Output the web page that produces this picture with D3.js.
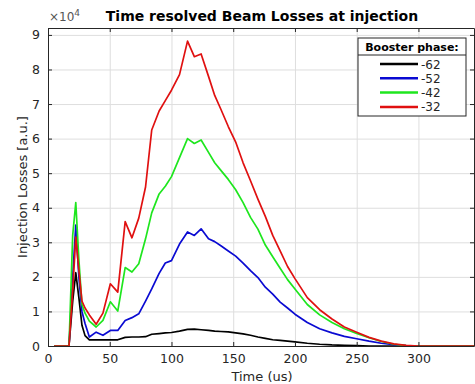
<!DOCTYPE html>
<html>
<head>
<meta charset="utf-8">
<script src="https://cdn.jsdelivr.net/npm/d3@7"></script>
<style>
  body { margin: 0; background: #fff; }
  text { font-family: "DejaVu Sans", sans-serif; }
</style>
</head>
<body>
<script>
// time grid (us) shared by all curves
var timeUs = [5, 17, 20, 22.5, 25, 27.5, 30, 33.5, 39, 44.5, 50.5, 56.5, 62.5, 68, 73.5, 79, 84, 90, 95, 100,
  106.5, 113, 118.5, 124, 130, 135, 140, 146, 152, 158, 164, 170, 176, 182, 188, 194, 200, 210, 220, 230,
  240, 250, 260, 270, 280, 290, 300, 320, 345];

// losses in units of 1e4
var lossM62 = [0, 0, 1.3, 2.12, 1.4, 0.6, 0.3, 0.18, 0.18, 0.18, 0.18, 0.18, 0.25, 0.26, 0.26, 0.27, 0.34, 0.36, 0.38, 0.39,
  0.43, 0.48, 0.49, 0.47, 0.45, 0.43, 0.42, 0.41, 0.38, 0.35, 0.31, 0.26, 0.22, 0.18, 0.16, 0.14, 0.12, 0.08, 0.05, 0.03,
  0.02, 0.01, 0, 0, 0, 0, 0, 0, 0];
var lossM52 = [0, 0, 2.0, 3.5, 2.0, 1.0, 0.65, 0.26, 0.4, 0.31, 0.45, 0.45, 0.74, 0.82, 0.93, 1.3, 1.65, 2.1, 2.4, 2.47,
  2.95, 3.3, 3.2, 3.39, 3.1, 3.02, 2.9, 2.75, 2.6, 2.4, 2.18, 1.98, 1.7, 1.5, 1.27, 1.1, 0.92, 0.68, 0.5, 0.38,
  0.28, 0.21, 0.14, 0.08, 0.04, 0.01, 0, 0, 0];
var lossM42 = [0, 0, 3.2, 4.15, 2.5, 1.2, 0.95, 0.72, 0.55, 0.74, 1.28, 1.01, 2.27, 2.14, 2.38, 3.1, 3.85, 4.4, 4.62, 4.9,
  5.45, 6.0, 5.86, 5.96, 5.6, 5.3, 5.08, 4.82, 4.52, 4.15, 3.72, 3.38, 2.92, 2.58, 2.25, 1.92, 1.65, 1.2, 0.9, 0.68,
  0.5, 0.36, 0.24, 0.13, 0.05, 0.01, 0, 0, 0];
var lossM32 = [0, 0, 1.6, 3.15, 2.2, 1.3, 1.1, 0.9, 0.63, 0.95, 1.8, 1.56, 3.6, 3.13, 3.7, 4.6, 6.25, 6.8, 7.1, 7.4,
  7.85, 8.82, 8.37, 8.45, 7.8, 7.25, 6.85, 6.35, 5.9, 5.3, 4.78, 4.25, 3.75, 3.2, 2.75, 2.3, 1.95, 1.4, 1.05, 0.78,
  0.55, 0.4, 0.25, 0.14, 0.06, 0.02, 0, 0, 0];

var phases = ["-62", "-52", "-42", "-32"];
var colors = ["#000000", "#0a0ad2", "#1ee61e", "#e01010"];
var xTicks = [0, 50, 100, 150, 200, 250, 300];
var yTicks = [0, 1, 2, 3, 4, 5, 6, 7, 8, 9];

var series = [lossM62, lossM52, lossM42, lossM32];

var w = 475, h = 384;
var plotL = 48, plotR = 474, plotT = 28, plotB = 346;

var svg = d3.select("body").append("svg")
  .attr("width", w)
  .attr("height", h);

var x = d3.scaleLinear().domain([0, 345]).range([plotL, plotR]);
var y = d3.scaleLinear().domain([0, 9.2]).range([plotB, plotT]);

// grid
svg.append("g")
  .attr("transform", "translate(0," + plotB + ")")
  .call(d3.axisBottom(x).tickValues(xTicks).tickSize(-(plotB - plotT)).tickFormat(""))
  .call(g => g.select(".domain").remove())
  .selectAll("line").attr("stroke", "#dedede");
svg.append("g")
  .attr("transform", "translate(" + plotL + ",0)")
  .call(d3.axisLeft(y).tickValues(yTicks).tickSize(-(plotR - plotL)).tickFormat(""))
  .call(g => g.select(".domain").remove())
  .selectAll("line").attr("stroke", "#dedede");

// curves
var line = d3.line()
  .x(function(d, i) { return x(timeUs[i]); })
  .y(function(d) { return y(d); });

svg.selectAll("path.curve")
  .data(series)
  .enter()
  .append("path")
  .attr("class", "curve")
  .attr("d", line)
  .attr("fill", "none")
  .attr("stroke", function(d, i) { return colors[i]; })
  .attr("stroke-width", 1.7)
  .attr("stroke-linejoin", "round");

// axes with inward ticks
var axisColor = "#262626";
var axes = svg.append("g").attr("class", "axes");
axes.append("g")
  .attr("transform", "translate(0," + plotB + ")")
  .call(d3.axisBottom(x).tickValues(xTicks).tickSizeInner(-4).tickSizeOuter(0).tickPadding(8));
axes.append("g")
  .attr("transform", "translate(" + plotL + ",0)")
  .call(d3.axisLeft(y).tickValues(yTicks).tickSizeInner(-4).tickSizeOuter(0).tickPadding(8));
axes.append("g")
  .attr("transform", "translate(0," + plotT + ")")
  .call(d3.axisTop(x).tickValues(xTicks).tickSizeInner(-4).tickSizeOuter(0).tickFormat(""));
axes.append("g")
  .attr("transform", "translate(" + plotR + ",0)")
  .call(d3.axisRight(y).tickValues(yTicks).tickSizeInner(-4).tickSizeOuter(0).tickFormat(""));

axes.selectAll(".domain").attr("stroke", axisColor);
axes.selectAll(".tick line").attr("stroke", axisColor);
axes.selectAll(".tick text")
  .attr("fill", axisColor)
  .style("font-size", "12.5px")
  .style("font-family", "DejaVu Sans, sans-serif");

// exponent label
var expo = svg.append("text")
  .attr("x", plotL + 1)
  .attr("y", 21)
  .attr("fill", "#555")
  .style("font-size", "12px");
expo.append("tspan").text("\u00d710");
expo.append("tspan").attr("dy", -5).style("font-size", "9px").text("4");

// title
svg.append("text")
  .attr("x", 262)
  .attr("y", 21)
  .attr("text-anchor", "middle")
  .attr("fill", "#000")
  .style("font-size", "14px")
  .style("font-weight", "bold")
  .text("Time resolved Beam Losses at injection");

// axis labels
svg.append("text")
  .attr("x", 262)
  .attr("y", 381)
  .attr("text-anchor", "middle")
  .attr("fill", axisColor)
  .style("font-size", "13px")
  .text("Time (us)");
svg.append("text")
  .attr("transform", "translate(27," + ((plotT + plotB) / 2) + ") rotate(-90)")
  .attr("text-anchor", "middle")
  .attr("fill", axisColor)
  .style("font-size", "13px")
  .text("Injection Losses [a.u.]");

// legend
var legend = svg.append("g").attr("transform", "translate(358,38)");
legend.append("rect")
  .attr("width", 108).attr("height", 78)
  .attr("fill", "#fff").attr("stroke", axisColor).attr("stroke-width", 1);
legend.append("line")
  .attr("x1", 0).attr("x2", 108).attr("y1", 17).attr("y2", 17)
  .attr("stroke", axisColor);
legend.append("text")
  .attr("x", 54).attr("y", 13)
  .attr("text-anchor", "middle")
  .style("font-size", "11px")
  .style("font-weight", "bold")
  .text("Booster phase:");
var items = legend.selectAll("g.item")
  .data(phases)
  .enter()
  .append("g")
  .attr("class", "item")
  .attr("transform", function(d, i) { return "translate(0," + (26 + i * 14.3) + ")"; });
items.append("line")
  .attr("x1", 22).attr("x2", 60)
  .attr("stroke", function(d, i) { return colors[i]; })
  .attr("stroke-width", 2.5);
items.append("text")
  .attr("x", 63).attr("y", 4.5)
  .attr("fill", axisColor)
  .style("font-size", "12px")
  .text(function(d) { return d; });
</script>
</body>
</html>
